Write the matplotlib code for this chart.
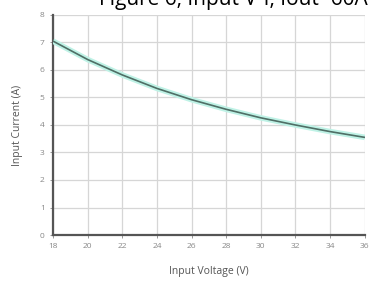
import matplotlib
matplotlib.use("Agg")
import matplotlib.pyplot as plt

voltage = [18, 20, 22, 24, 26, 28, 30, 32, 34, 36]
current = [7.05, 6.38, 5.82, 5.33, 4.92, 4.57, 4.26, 4.00, 3.76, 3.55]
x_ticks = [18, 20, 22, 24, 26, 28, 30, 32, 34, 36]
y_ticks = [0, 1, 2, 3, 4, 5, 6, 7, 8]

plt.rcParams['font.family'] = ['Open Sans', 'DejaVu Sans']
fig = plt.figure(figsize=(3.72, 2.88), dpi=100)
ax = fig.add_axes([0.1425, 0.184, 0.838, 0.764])

ax.plot(voltage, current, color='#bff2e6', lw=4.0, solid_capstyle='butt', zorder=3)
ax.plot(voltage, current, color='#4f6f66', lw=1.2, zorder=4)

ax.set_xlim(18, 36)
ax.set_ylim(0, 8)
ax.set_xticks(x_ticks)
ax.set_yticks(y_ticks)
ax.grid(True, color='#d6d6d6', lw=0.9)
for s in ['top', 'right']:
    ax.spines[s].set_visible(False)
for s in ['left', 'bottom']:
    ax.spines[s].set_color('#555555')
    ax.spines[s].set_linewidth(1.6)
ax.tick_params(axis='both', labelsize=6, colors='#888888', length=2, width=0.6, pad=4)
ax.set_xlabel('Input Voltage (V)', fontsize=7.5, color='#555555', labelpad=11)
ax.set_ylabel('Input Current (A)', fontsize=7.5, color='#555555', labelpad=12)

fig.text(0.265, 1.0, 'Figure 6, Input V-I, Iout=60A', fontsize=15, color='black',
         ha='left', va='center')

fig.savefig('out.png', dpi=100)
